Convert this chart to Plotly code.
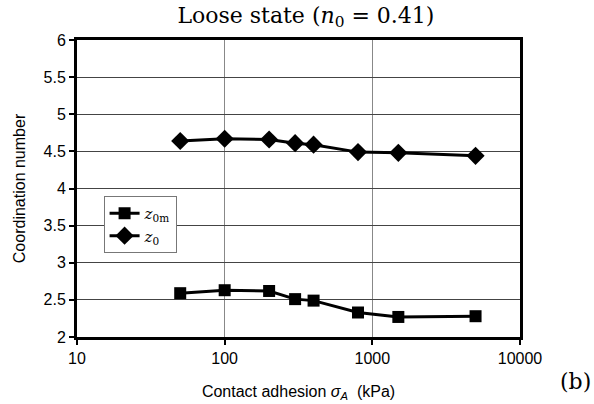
import plotly.graph_objects as go

adhesion = [50, 100, 200, 300, 400, 800, 1500, 5000]
z0m = [2.59, 2.63, 2.62, 2.51, 2.49, 2.33, 2.27, 2.28]
z0 = [4.64, 4.67, 4.66, 4.61, 4.59, 4.49, 4.48, 4.44]
x_ticks = [10, 100, 1000, 10000]
y_ticks = [2, 2.5, 3, 3.5, 4, 4.5, 5, 5.5, 6]

serif = "DejaVu Serif, Liberation Serif, serif"
sans = "Liberation Sans, Arial, sans-serif"

fig = go.Figure()
fig.add_trace(go.Scatter(x=adhesion, y=z0m, mode="lines+markers",
                         name="<i>z</i><sub>0m</sub>",
                         line=dict(color="black", width=3),
                         marker=dict(symbol="square", size=12, color="black")))
fig.add_trace(go.Scatter(x=adhesion, y=z0, mode="lines+markers",
                         name="<i>z</i><sub>0</sub>",
                         line=dict(color="black", width=3),
                         marker=dict(symbol="diamond", size=14, color="black")))

fig.update_layout(
    width=594, height=404,
    margin=dict(l=77, r=74, t=40, b=67),
    paper_bgcolor="white", plot_bgcolor="white",
    title=dict(text="Loose state (<i>n</i><sub>0</sub> = 0.41)",
               x=0.515, xanchor="center", y=0.982, yanchor="top",
               font=dict(family=serif, size=22, color="black")),
    showlegend=True,
    legend=dict(x=0.06, y=0.475, xanchor="left", yanchor="top",
                bgcolor="white", bordercolor="#777", borderwidth=1,
                font=dict(family=serif, size=15, color="black"),
                tracegroupgap=0, itemwidth=30,
                traceorder="normal"),
    font=dict(family=sans, size=16, color="black"),
)
fig.update_xaxes(type="log", range=[1, 4], tickvals=x_ticks,
                 ticktext=[str(v) for v in x_ticks], automargin=False,
                 showgrid=True, gridcolor="#888", gridwidth=1,
                 showline=True, linecolor="black", linewidth=3, mirror=True,
                 ticks="outside", ticklen=5, tickwidth=2, tickcolor="black",
                 zeroline=False,
                 title=dict(text="Contact adhesion <i>σ<sub>A</sub></i>  (kPa)",
                            font=dict(family=sans, size=16), standoff=20),
                 tickfont=dict(family=sans, size=16))
fig.update_yaxes(range=[2, 6], tickvals=y_ticks,
                 ticktext=[("%g" % v) for v in y_ticks], automargin=False,
                 showgrid=True, gridcolor="#444", gridwidth=1,
                 showline=True, linecolor="black", linewidth=3, mirror=True,
                 ticks="outside", ticklen=5, tickwidth=2, tickcolor="black",
                 zeroline=False,
                 title=dict(text="Coordination number",
                            font=dict(family=sans, size=16), standoff=14),
                 tickfont=dict(family=sans, size=16))
fig.add_annotation(text="(b)", xref="paper", yref="paper", x=1.165, y=-0.15,
                   xanchor="right", yanchor="middle", showarrow=False,
                   font=dict(family=serif, size=22, color="black"))

fig.write_html("out.html", config={"displayModeBar": False},
               post_script="document.body.style.margin='0';document.body.style.overflow='hidden';")
